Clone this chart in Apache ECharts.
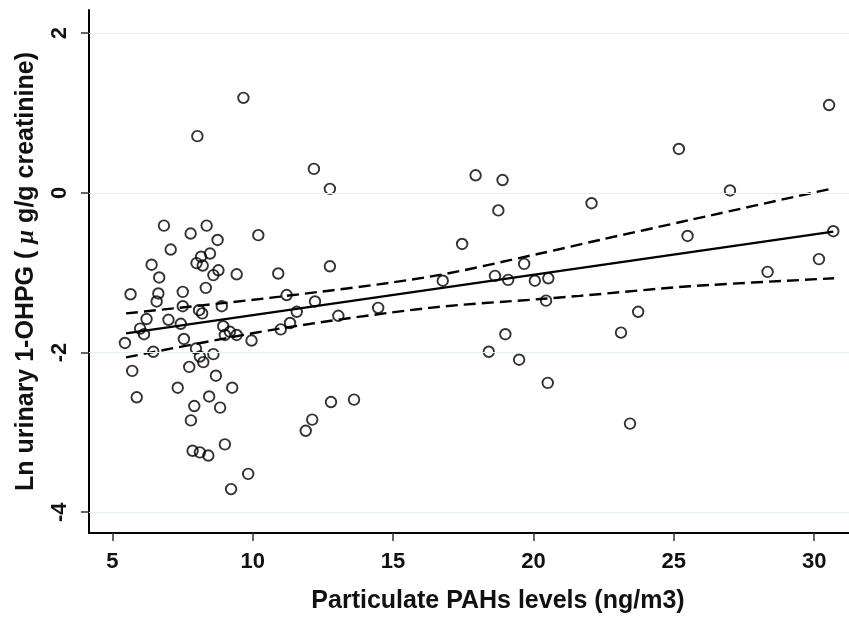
<!DOCTYPE html>
<html>
<head>
<meta charset="utf-8">
<script src="https://cdn.jsdelivr.net/npm/echarts@6/dist/echarts.min.js"></script>
<style>html,body{margin:0;padding:0;background:#fff}#c{width:849px;height:622px}</style>
</head>
<body>
<div id="c"></div>
<script>
// Scatter data: particulate PAHs (ng/m3) vs Ln urinary 1-OHPG
const pahX = [9.67,8.03,6.84,7.79,8.36,8.75,10.20,7.08,6.40,8.00,8.16,8.48,8.22,8.60,8.78,9.43,10.91,6.67,7.51,8.33,5.65,6.64,6.58,11.21,7.51,8.09,8.20,8.90,11.57,
  6.22,7.00,5.99,6.13,7.44,5.45,6.46,7.55,7.98,8.12,8.24,7.74,8.60,8.95,9.01,9.19,9.43,9.96,11.00,11.33,5.71,8.69,7.33,9.27,5.87,8.45,7.92,8.84,7.80,9.01,7.86,8.12,8.42,9.84,9.23,
  12.18,12.75,17.94,18.90,18.75,17.46,12.75,19.67,12.22,16.77,18.63,19.10,20.05,20.53,13.05,14.47,20.45,19.00,18.41,19.49,20.51,12.79,13.61,12.12,11.89,
  30.53,25.18,27.00,22.07,25.49,30.68,30.17,28.34,23.73,23.12,23.44];
const ohpgY = [1.19,0.71,-0.41,-0.51,-0.41,-0.59,-0.53,-0.71,-0.90,-0.88,-0.80,-0.76,-0.91,-1.03,-0.97,-1.02,-1.01,-1.06,-1.24,-1.19,-1.27,-1.26,-1.36,-1.28,-1.42,-1.47,-1.51,-1.42,-1.49,
  -1.58,-1.59,-1.70,-1.77,-1.64,-1.88,-1.99,-1.83,-1.95,-2.05,-2.12,-2.18,-2.02,-1.67,-1.78,-1.74,-1.78,-1.85,-1.71,-1.63,-2.23,-2.29,-2.44,-2.44,-2.56,-2.55,-2.67,-2.69,-2.85,-3.15,-3.23,-3.25,-3.29,-3.52,-3.71,
  0.30,0.05,0.22,0.16,-0.22,-0.64,-0.92,-0.89,-1.36,-1.10,-1.04,-1.09,-1.10,-1.07,-1.54,-1.44,-1.35,-1.77,-1.99,-2.09,-2.38,-2.62,-2.59,-2.84,-2.98,
  1.10,0.55,0.03,-0.13,-0.54,-0.48,-0.83,-0.99,-1.49,-1.75,-2.89];
// Fitted line
const fitX = [5.49, 30.68];
const fitY = [-1.76, -0.485];
// 95% CI bands
const upX = [5.49, 10.97, 16.31, 20.23, 22.36, 25.57, 30.71];
const upY = [-1.51, -1.30, -1.05, -0.76, -0.59, -0.34, 0.06];
const loX = [5.49, 10.97, 16.31, 20.23, 21.65, 25.57, 30.71];
const loY = [-2.06, -1.70, -1.44, -1.33, -1.29, -1.17, -1.07];
// Axis ticks
const xTicks = [5, 10, 15, 20, 25, 30];
const yTicks = [-4, -2, 0, 2];

const zip = (a, b) => a.map((v, i) => [v, b[i]]);
const FONT = 'Liberation Sans';

const chart = echarts.init(document.getElementById('c'));
chart.setOption({
  animation: false,
  backgroundColor: '#fff',
  grid: { left: 89, right: 0, top: 10, bottom: 89, containLabel: false },
  xAxis: {
    type: 'value', min: 4.17, max: 31.24,
    name: 'Particulate PAHs levels (ng/m3)', nameLocation: 'middle', nameGap: 56,
    nameTextStyle: { fontFamily: FONT, fontSize: 25, fontWeight: 'bold', color: '#111', padding: [0, 0, 0, 58] },
    axisLine: { show: true, onZero: false, lineStyle: { color: '#000', width: 2 } },
    axisTick: { show: true, customValues: xTicks, length: 8, lineStyle: { color: '#333', width: 1.5 } },
    axisLabel: { customValues: xTicks, fontFamily: FONT, fontSize: 22, fontWeight: 'bold', color: '#111', margin: 18 },
    splitLine: { show: false }
  },
  yAxis: {
    type: 'value', min: -4.26, max: 2.29,
    name: 'Ln urinary 1-OHPG ( {mu|μ} g/g creatinine)', nameLocation: 'middle', nameGap: 50,
    nameTextStyle: { fontFamily: FONT, fontSize: 25, fontWeight: 'bold', color: '#111',
      rich: { mu: { fontFamily: 'Liberation Serif', fontStyle: 'italic', fontSize: 25, color: '#111' } } },
    axisLine: { show: true, onZero: false, lineStyle: { color: '#000', width: 2 } },
    axisTick: { show: true, customValues: yTicks, length: 8, lineStyle: { color: '#333', width: 1.5 } },
    axisLabel: { customValues: yTicks, rotate: 90, fontFamily: FONT, fontSize: 22, fontWeight: 'bold', color: '#111', margin: 18 },
    splitLine: { show: false }
  },
  series: [
    {
      type: 'scatter', data: zip(pahX, ohpgY), symbol: 'circle', symbolSize: 10.5,
      itemStyle: { color: 'rgba(0,0,0,0)', borderColor: '#000', borderWidth: 1.9 },
      markLine: {
        silent: true, symbol: 'none', label: { show: false },
        lineStyle: { color: '#e6eff1', width: 1.2, type: 'solid' },
        data: yTicks.map(v => ({ yAxis: v }))
      },
      z: 3
    },
    {
      type: 'line', data: zip(fitX, fitY), symbol: 'none',
      lineStyle: { color: '#000', width: 2.4 }, z: 4
    },
    {
      type: 'line', data: zip(upX, upY), symbol: 'none', smooth: 0.3,
      lineStyle: { color: '#000', width: 2.4, type: [12, 6] }, z: 4
    },
    {
      type: 'line', data: zip(loX, loY), symbol: 'none', smooth: 0.3,
      lineStyle: { color: '#000', width: 2.4, type: [12, 6] }, z: 4
    }
  ]
});
</script>
</body>
</html>
